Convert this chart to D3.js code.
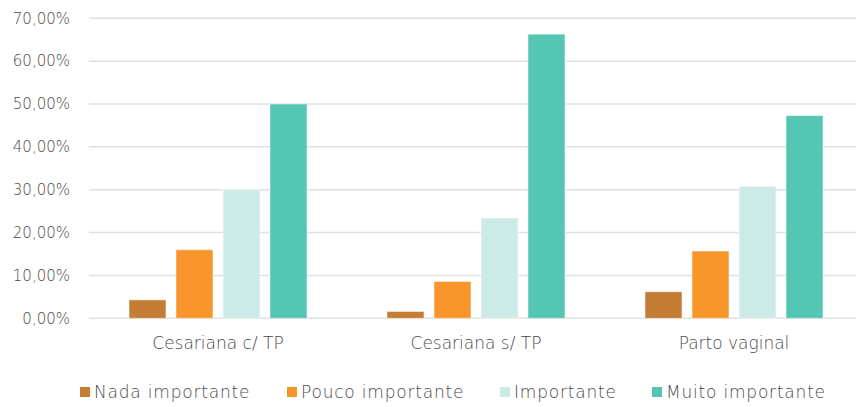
<!DOCTYPE html>
<html>
<head>
<meta charset="utf-8">
<script src="https://cdn.jsdelivr.net/npm/d3@7"></script>
<style>
  body { margin: 0; background: #fff; }
  text { font-family: "DejaVu Sans", sans-serif; fill: #4a4a4a; font-weight: 200; }
</style>
</head>
<body>
<svg id="chart"></svg>
<script>
var categories = ['Cesariana c/ TP', 'Cesariana s/ TP', 'Parto vaginal'];
var seriesNames = ['Nada importante', 'Pouco importante', 'Importante', 'Muito importante'];
var nada = [4.3, 1.6, 6.2];
var pouco = [16.0, 8.6, 15.7];
var importante = [30.0, 23.4, 30.8];
var muito = [50.0, 66.3, 47.3];
var yTicks = [0, 10, 20, 30, 40, 50, 60, 70];
var colors = ['#C47D34', '#F9962B', '#CDEBE6', '#55C5B4'];

var values = [nada, pouco, importante, muito];

var width = 856, height = 407;
var svg = d3.select('#chart')
  .attr('width', width)
  .attr('height', height);

var x = d3.scaleBand()
  .domain(categories)
  .range([89, 863])
  .padding(0);

var xs = d3.scaleBand()
  .domain(seriesNames)
  .range([40, x.bandwidth() - 40])
  .paddingInner(0.213);

var y = d3.scaleLinear()
  .domain([0, 70])
  .range([318.3, 18.3]);

// grid lines
svg.append('g')
  .selectAll('line')
  .data(yTicks)
  .enter().append('line')
  .attr('x1', 89)
  .attr('x2', width)
  .attr('y1', d => y(d))
  .attr('y2', d => y(d))
  .attr('stroke', '#e0e0e0')
  .attr('stroke-width', 1.5);

// y labels
svg.append('g')
  .selectAll('text')
  .data(yTicks)
  .enter().append('text')
  .attr('x', 70)
  .attr('y', d => y(d))
  .attr('dy', '0.35em')
  .attr('text-anchor', 'end')
  .attr('font-size', '15px')
  .text(d => d3.format('.2f')(d).replace('.', ',') + '%');

// bars
var groups = svg.append('g')
  .selectAll('g')
  .data(categories)
  .enter().append('g')
  .attr('transform', d => `translate(${x(d)},0)`);

groups.selectAll('rect')
  .data((c, ci) => seriesNames.map((s, si) => ({ s: s, si: si, v: values[si][ci] })))
  .enter().append('rect')
  .attr('x', d => xs(d.s))
  .attr('width', xs.bandwidth())
  .attr('y', d => y(d.v))
  .attr('height', d => y(0) - y(d.v))
  .attr('fill', d => colors[d.si])
  .attr('stroke', 'rgba(255,255,255,0.5)')
  .attr('stroke-width', 1);

// category labels
svg.append('g')
  .selectAll('text')
  .data(categories)
  .enter().append('text')
  .attr('x', d => x(d) + x.bandwidth() / 2)
  .attr('y', 343)
  .attr('dy', '0.35em')
  .attr('text-anchor', 'middle')
  .attr('font-size', '17px')
  .text(d => d);

// legend
var legendX = [80, 287, 500, 652];
var legend = svg.append('g')
  .selectAll('g')
  .data(seriesNames)
  .enter().append('g')
  .attr('transform', (d, i) => `translate(${legendX[i]},392)`);

legend.append('rect')
  .attr('x', 0)
  .attr('y', -5)
  .attr('width', 10)
  .attr('height', 10)
  .attr('fill', (d, i) => colors[i]);

legend.append('text')
  .attr('x', 14)
  .attr('y', 0)
  .attr('dy', '0.35em')
  .attr('font-size', '17px')
  .attr('letter-spacing', '0.8px')
  .text(d => d);
</script>
</body>
</html>
